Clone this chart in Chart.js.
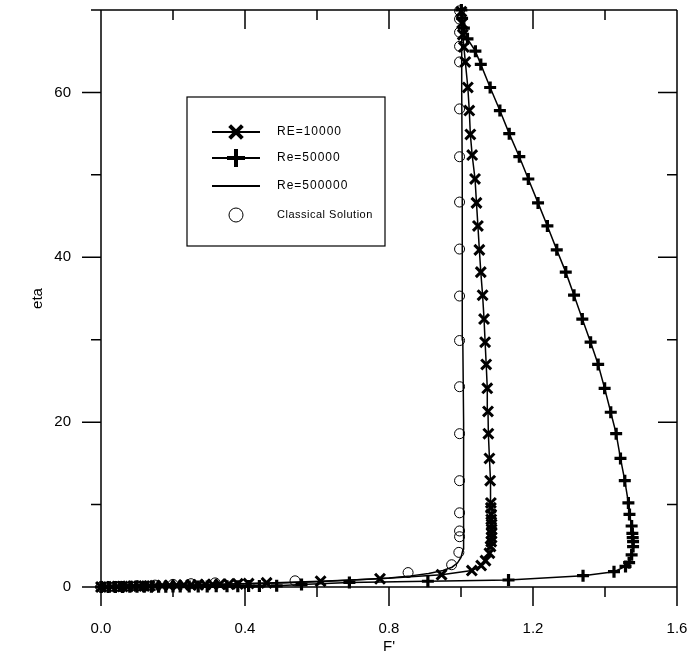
<!DOCTYPE html>
<html>
<head>
<meta charset="utf-8">
<title>F' vs eta</title>
<script src="https://cdn.jsdelivr.net/npm/chart.js@4.4.1/dist/chart.umd.min.js"></script>
<style>
  body { margin: 0; background: #fff; }
  #wrap { width: 690px; height: 659px; }
</style>
</head>
<body>
<div id="wrap"><canvas id="chart_eta" width="690" height="659"></canvas></div>
<script>
/* ------------------
  data (x = F', y = eta)
-------------------*/
var re10000F = [0, 0.015, 0.03, 0.045, 0.06, 0.075, 0.09, 0.105, 0.12, 0.135, 0.15, 0.17, 0.19, 0.21,
  0.23, 0.25, 0.27, 0.29, 0.31, 0.33, 0.355, 0.38, 0.41,
  0.46, 0.61, 0.775, 0.946, 1.03, 1.056, 1.068, 1.079, 1.082, 1.084, 1.085, 1.085, 1.085, 1.085,
  1.084, 1.084, 1.083, 1.083, 1.081, 1.079, 1.076, 1.075, 1.073, 1.07, 1.067, 1.064, 1.06, 1.055,
  1.051, 1.047, 1.043, 1.039, 1.031, 1.026, 1.023, 1.019, 1.012, 1.008, 1.005, 1.003, 1.001];
var re10000Eta = [0, 0.015, 0.03, 0.045, 0.06, 0.075, 0.09, 0.1, 0.12, 0.13, 0.15, 0.17, 0.19, 0.21,
  0.23, 0.25, 0.27, 0.29, 0.31, 0.33, 0.35, 0.38, 0.42,
  0.5, 0.7, 1.0, 1.5, 2.0, 2.6, 3.2, 4.1, 4.9, 5.5, 6.0, 6.5, 7.0, 7.6,
  8.2, 8.8, 9.6, 10.2, 12.9, 15.6, 18.6, 21.3, 24.1, 27.0, 29.7, 32.5, 35.4, 38.2,
  40.9, 43.8, 46.6, 49.5, 52.4, 54.9, 57.8, 60.6, 63.7, 65.5, 67.0, 68.4, 69.8];

var re50000F = [0, 0.02, 0.04, 0.06, 0.08, 0.1, 0.12, 0.14, 0.16, 0.18, 0.2, 0.22, 0.245, 0.27,
  0.295, 0.32, 0.35, 0.38, 0.41, 0.44,
  0.488, 0.557, 0.69, 0.908, 1.132, 1.339, 1.425, 1.457, 1.467, 1.474,
  1.478, 1.478, 1.477, 1.476, 1.474, 1.468, 1.465, 1.455, 1.443, 1.431,
  1.416, 1.399, 1.381, 1.36, 1.337, 1.314, 1.291, 1.266, 1.24, 1.214,
  1.187, 1.162, 1.134, 1.108, 1.081, 1.055, 1.04, 1.018, 1.008, 1.003, 1.001];
var re50000Eta = [0, 0.005, 0.01, 0.015, 0.02, 0.025, 0.03, 0.035, 0.04, 0.045, 0.05, 0.055, 0.06, 0.07,
  0.075, 0.08, 0.09, 0.1, 0.11, 0.12,
  0.14, 0.3, 0.55, 0.7, 0.85, 1.37, 1.86, 2.5, 2.95, 3.9,
  4.9, 5.5, 6.0, 6.5, 7.4, 8.8, 10.2, 12.9, 15.6, 18.6,
  21.2, 24.1, 27.0, 29.7, 32.5, 35.4, 38.2, 40.9, 43.8, 46.6,
  49.5, 52.2, 55.0, 57.8, 60.6, 63.4, 65.0, 66.5, 67.8, 69.0, 70.0];

var re500000F = [0, 0.1, 0.2, 0.3, 0.4, 0.5, 0.6, 0.7, 0.8, 0.86, 0.91, 0.95, 0.975, 0.99,
  1.0, 1.006, 1.008, 1.008, 1.007, 1.006, 1.005, 1.004, 1.003, 1.002, 1.002];
var re500000Eta = [0, 0.08, 0.17, 0.27, 0.38, 0.5, 0.65, 0.85, 1.1, 1.35, 1.65, 2.0, 2.4, 2.9,
  3.6, 4.6, 6.0, 8.0, 12, 20, 30, 40, 50, 60, 70];

var classicF = [0, 0.05, 0.1, 0.15, 0.2, 0.25, 0.317, 0.539, 0.853, 0.974, 0.994, 0.996, 0.996, 0.996, 0.996,
  0.996, 0.996, 0.996, 0.996, 0.996, 0.996, 0.996, 0.996, 0.996, 0.996, 0.996, 0.996, 0.996];
var classicEta = [0, 0.07, 0.15, 0.23, 0.32, 0.4, 0.5, 0.75, 1.75, 2.7, 4.2, 6.1, 6.8, 9.0, 12.9,
  18.6, 24.3, 29.9, 35.3, 41.0, 46.7, 52.2, 58.0, 63.7, 65.6, 67.3, 68.9, 69.9];

var seriesLabels = ['RE=10000', 'Re=50000', 'Re=500000', 'Classical Solution'];

// axis ranges / tick steps
var xMin = 0, xMax = 1.6, xStep = 0.2;
var yMin = 0, yMax = 70, yStep = 10;

function toPoints(xs, ys) {
  return xs.map(function (x, i) { return { x: x, y: ys[i] }; });
}

Chart.defaults.font.family = "'Liberation Sans', Arial, sans-serif";
Chart.defaults.color = '#000';

/* ------------------
  frame + major/minor ticks on all four sides
-------------------*/
var frameTicks = {
  id: 'frameTicks',
  afterDraw: function (chart) {
    var ctx = chart.ctx, a = chart.chartArea;
    var xs = chart.scales.x, ys = chart.scales.y;
    ctx.save();
    ctx.strokeStyle = '#000';
    ctx.lineWidth = 1.5;
    ctx.beginPath();
    ctx.moveTo(a.left, a.top); ctx.lineTo(a.right, a.top);
    ctx.moveTo(a.right, a.top); ctx.lineTo(a.right, a.bottom);
    ctx.moveTo(a.left, a.top); ctx.lineTo(a.left, a.bottom);
    ctx.moveTo(a.left, a.bottom); ctx.lineTo(a.right, a.bottom);
    xs.ticks.forEach(function (t, i) {
      var px = xs.getPixelForValue(t.value);
      var len = i % 2 === 0 ? 19 : 10;
      ctx.moveTo(px, a.bottom); ctx.lineTo(px, a.bottom + len);
      ctx.moveTo(px, a.top); ctx.lineTo(px, a.top + len);
    });
    ys.ticks.forEach(function (t, i) {
      var py = ys.getPixelForValue(t.value);
      var len = i % 2 === 0 ? 19 : 10;
      ctx.moveTo(a.left, py); ctx.lineTo(a.left - len, py);
      ctx.moveTo(a.right, py); ctx.lineTo(a.right - len, py);
    });
    ctx.stroke();
    ctx.restore();
  }
};

/* ------------------
  boxed legend inside the plot
-------------------*/
function drawMarker(ctx, style, r, x, y) {
  ctx.beginPath();
  if (style === 'crossRot') {
    var o = r * 0.707;
    ctx.moveTo(x - o, y - o); ctx.lineTo(x + o, y + o);
    ctx.moveTo(x - o, y + o); ctx.lineTo(x + o, y - o);
  } else if (style === 'cross') {
    ctx.moveTo(x - r, y); ctx.lineTo(x + r, y);
    ctx.moveTo(x, y - r); ctx.lineTo(x, y + r);
  } else if (style === 'circle') {
    ctx.arc(x, y, r, 0, Math.PI * 2);
  }
  ctx.stroke();
}

var boxLegend = {
  id: 'boxLegend',
  afterDraw: function (chart) {
    var ctx = chart.ctx;
    var rows = [132, 158, 186, 215];
    ctx.save();
    ctx.strokeStyle = '#000';
    ctx.lineWidth = 1.2;
    ctx.strokeRect(187, 97, 198, 149);
    chart.data.datasets.forEach(function (ds, i) {
      var y = rows[i];
      if (ds.showLine) {
        ctx.lineWidth = 2;
        ctx.beginPath(); ctx.moveTo(212, y); ctx.lineTo(260, y); ctx.stroke();
      }
      if (ds.pointRadius > 0) {
        ctx.lineWidth = ds.pointStyle === 'circle' ? 1 : 4;
        drawMarker(ctx, ds.pointStyle, ds.pointStyle === 'circle' ? 7 : 9, 236, y);
      }
      ctx.fillStyle = '#000';
      ctx.textBaseline = 'middle';
      ctx.font = (i === 3 ? '11px' : '12px') + " 'Liberation Sans', Arial, sans-serif";
      if ('letterSpacing' in ctx) ctx.letterSpacing = i === 3 ? '0.5px' : '1px';
      ctx.fillText(ds.label, 277, y);
    });
    ctx.restore();
  }
};

new Chart(document.getElementById('chart_eta'), {
  type: 'scatter',
  data: {
    datasets: [
      {
        label: seriesLabels[0],
        data: toPoints(re10000F, re10000Eta),
        showLine: true,
        borderColor: '#000',
        borderWidth: 1.5,
        pointStyle: 'crossRot',
        pointRadius: 7,
        pointBorderWidth: 3,
        pointBorderColor: '#000',
        pointBackgroundColor: '#000',
        clip: false
      },
      {
        label: seriesLabels[1],
        data: toPoints(re50000F, re50000Eta),
        showLine: true,
        borderColor: '#000',
        borderWidth: 1.5,
        pointStyle: 'cross',
        pointRadius: 6,
        pointBorderWidth: 3.2,
        pointBorderColor: '#000',
        pointBackgroundColor: '#000',
        clip: false
      },
      {
        label: seriesLabels[2],
        data: toPoints(re500000F, re500000Eta),
        showLine: true,
        borderColor: '#000',
        borderWidth: 1.5,
        pointRadius: 0,
        clip: false
      },
      {
        label: seriesLabels[3],
        data: toPoints(classicF, classicEta),
        showLine: false,
        pointStyle: 'circle',
        pointRadius: 5,
        pointBorderWidth: 1,
        pointBorderColor: '#000',
        pointBackgroundColor: 'rgba(0,0,0,0)',
        clip: false
      }
    ]
  },
  options: {
    responsive: false,
    animation: false,
    layout: { padding: { left: 0, top: 10, right: 13, bottom: 0 } },
    plugins: {
      legend: { display: false },
      tooltip: { enabled: false }
    },
    scales: {
      x: {
        type: 'linear',
        position: 'bottom',
        min: xMin,
        max: xMax,
        afterFit: function (s) { s.height = 72; s.paddingLeft = 0; s.paddingRight = 0; },
        grid: { display: true, drawOnChartArea: false, drawTicks: true, tickLength: 19, color: 'rgba(0,0,0,0)' },
        border: { display: false },
        ticks: {
          stepSize: xStep,
          autoSkip: false,
          maxRotation: 0,
          padding: 14,
          font: { size: 15 },
          color: '#000',
          callback: function (v, i) { return i % 2 === 0 ? Number(v).toFixed(1) : ''; }
        },
        title: { display: true, text: "F'", font: { size: 15 }, color: '#000', padding: { top: 0, bottom: 3 } }
      },
      y: {
        type: 'linear',
        position: 'left',
        min: yMin,
        max: yMax,
        afterFit: function (s) { s.width = 101; s.paddingTop = 0; s.paddingBottom = 0; },
        grid: { display: true, drawOnChartArea: false, drawTicks: true, tickLength: 19, color: 'rgba(0,0,0,0)' },
        border: { display: false },
        ticks: {
          stepSize: yStep,
          autoSkip: false,
          padding: 11,
          font: { size: 15 },
          color: '#000',
          callback: function (v, i) { return i % 2 === 0 ? String(v) : ''; }
        },
        title: { display: true, text: 'eta', font: { size: 15 }, color: '#000', padding: { top: 29, bottom: 0 } }
      }
    }
  },
  plugins: [frameTicks, boxLegend]
});
</script>
</body>
</html>
